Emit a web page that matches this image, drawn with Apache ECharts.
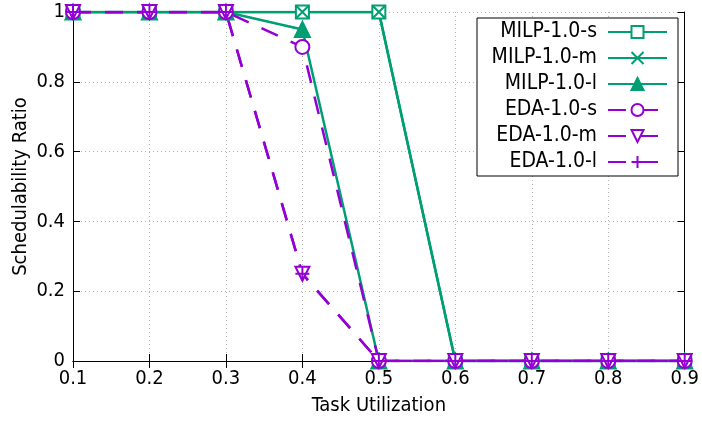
<!DOCTYPE html>
<html>
<head>
<meta charset="utf-8">
<script src="https://cdn.jsdelivr.net/npm/echarts@6/dist/echarts.min.js"></script>
<style>
  html, body { margin: 0; padding: 0; background: #fff; }
  #main { width: 702px; height: 421px; }
</style>
</head>
<body>
<div id="main"></div>
<script>
// task utilization
var utils = [0.1, 0.2, 0.3, 0.4, 0.5, 0.6, 0.7, 0.8, 0.9];
// schedulability ratio per series
var milpS = [1, 1, 1, 1, 1, 0, 0, 0, 0];
var milpM = [1, 1, 1, 1, 1, 0, 0, 0, 0];
var milpL = [1, 1, 1, 0.95, 0, 0, 0, 0, 0];
var edaS = [1, 1, 1, 0.9, 0, 0, 0, 0, 0];
var edaM = [1, 1, 1, 0.25, 0, 0, 0, 0, 0];
var edaL = [1, 1, 1, 0.25, 0, 0, 0, 0, 0];

var GREEN = '#009e73';
var PURPLE = '#9400d3';
var FONT = '"DejaVu Sans Condensed", "DejaVu Sans", sans-serif';

function pairs(vals) {
  return utils.map(function (u, i) { return [u, vals[i]]; });
}

function mk(name, vals, color, dashed, symbol, size, rotate) {
  return {
    name: name,
    type: 'line',
    data: pairs(vals),
    symbol: symbol,
    symbolSize: size,
    symbolRotate: rotate || 0,
    showAllSymbol: true,
    lineStyle: { color: color, width: 2.5, type: dashed ? [18, 14] : 'solid' },
    itemStyle: { color: color, borderColor: color, borderWidth: 2 },
    emphasis: { disabled: true }
  };
}

var chart = echarts.init(document.getElementById('main'));

var option = {
  animation: false,
  textStyle: { fontFamily: FONT },
  grid: { left: 73, right: 16, top: 12, bottom: 60 },
  legend: {
    orient: 'vertical',
    left: 477,
    top: 18,
    align: 'right',
    padding: [3, 10, 3, 5],
    itemWidth: 59,
    itemHeight: 15,
    itemGap: 4,
    borderColor: '#000',
    borderWidth: 1,
    backgroundColor: '#fff',
    textStyle: { fontFamily: FONT, fontSize: 21, lineHeight: 22, color: '#000',
      width: 115, align: 'right', padding: [0, 6, 0, 0] },
    data: ['MILP-1.0-s', 'MILP-1.0-m', 'MILP-1.0-l', 'EDA-1.0-s', 'EDA-1.0-m', 'EDA-1.0-l']
  },
  xAxis: [{
    type: 'value',
    min: 0.1, max: 0.9, interval: 0.1,
    name: 'Task Utilization',
    nameLocation: 'middle',
    nameGap: 35,
    nameTextStyle: { fontFamily: FONT, fontSize: 20, color: '#000' },
    axisLine: { lineStyle: { color: '#000', width: 1 } },
    axisTick: { inside: true, length: 7, lineStyle: { color: '#000' } },
    axisLabel: { fontFamily: FONT, fontSize: 20, color: '#000', margin: 8,
      formatter: function (v) { return v.toFixed(1); } },
    splitLine: { show: true, lineStyle: { color: '#b4b4b4', type: [1, 3] } }
  }, {
    type: 'value', position: 'top',
    min: 0.1, max: 0.9, interval: 0.1,
    axisLine: { lineStyle: { color: '#000', width: 1 } },
    axisTick: { inside: true, length: 7, lineStyle: { color: '#000' } },
    axisLabel: { show: false },
    splitLine: { show: false }
  }],
  yAxis: [{
    type: 'value',
    min: 0, max: 1, interval: 0.2,
    name: 'Schedulability Ratio',
    nameLocation: 'middle',
    nameGap: 42,
    nameMoveOverlap: false,
    nameTextStyle: { fontFamily: FONT, fontSize: 20, color: '#000' },
    axisLine: { show: true, lineStyle: { color: '#000', width: 1 } },
    axisTick: { show: true, inside: true, length: 7, lineStyle: { color: '#000' } },
    axisLabel: { fontFamily: FONT, fontSize: 20, color: '#000', margin: 8,
      formatter: function (v) { return v === 0 || v === 1 ? String(v) : v.toFixed(1); } },
    splitLine: { show: true, lineStyle: { color: '#b4b4b4', type: [1, 3] } }
  }, {
    type: 'value', position: 'right',
    min: 0, max: 1, interval: 0.2,
    axisLine: { show: true, lineStyle: { color: '#000', width: 1 } },
    axisTick: { show: true, inside: true, length: 7, lineStyle: { color: '#000' } },
    axisLabel: { show: false },
    splitLine: { show: false }
  }],
  series: [
    mk('MILP-1.0-s', milpS, GREEN, false, 'emptyRect', 13),
    mk('MILP-1.0-m', milpM, GREEN, false, 'path://M0,0L10,10M10,0L0,10', 13),
    mk('MILP-1.0-l', milpL, GREEN, false, 'triangle', 15),
    mk('EDA-1.0-s', edaS, PURPLE, true, 'emptyCircle', 14),
    mk('EDA-1.0-m', edaM, PURPLE, true, 'emptyTriangle', 14, 180),
    mk('EDA-1.0-l', edaL, PURPLE, true, 'path://M5,0L5,10M0,5L10,5', 14)
  ]
};

chart.setOption(option);
</script>
</body>
</html>
